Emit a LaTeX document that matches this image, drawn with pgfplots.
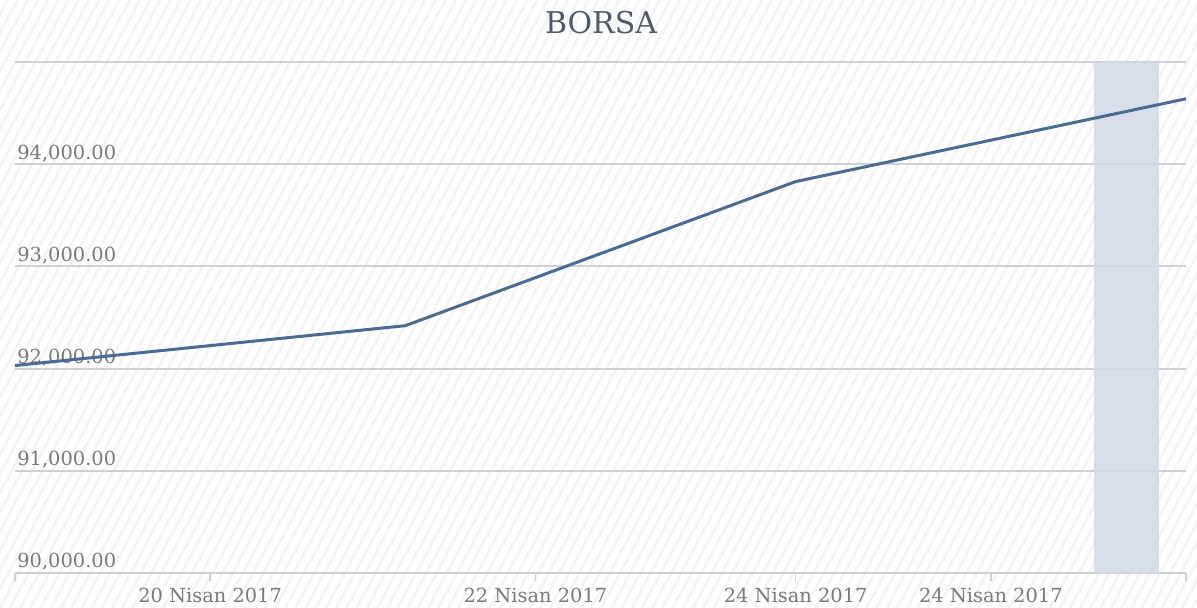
\documentclass[border=0pt]{standalone}
\usepackage{fontspec}
\setmainfont{DejaVu Serif}
\usepackage{pgfplots}
\pgfplotsset{compat=1.18}
\usetikzlibrary{patterns.meta}
\definecolor{gridc}{HTML}{CDD1D5}
\definecolor{labc}{HTML}{7A7A7A}
\definecolor{titc}{HTML}{4F5B69}
\definecolor{linec}{HTML}{4A6B92}
\definecolor{bandc}{HTML}{D3DAE7}
\definecolor{hatchc}{HTML}{F4F4F4}
\begin{document}
\begin{tikzpicture}
% canvas: 1197x608 px at 0.5pt/px, axis box lower-left at (0,0)
\fill[white] (-7.5pt,-17.5pt) rectangle (591pt,286.5pt);
\fill[pattern={Lines[angle=62,distance=4.5pt,line width=1.3pt]},pattern color=hatchc] (-7.5pt,-17.5pt) rectangle (591pt,286.5pt);
\node[text=titc,font=\fontsize{15}{17}\selectfont] at (293pt,275pt) {BORSA};
\begin{axis}[
  at={(0,0)}, anchor=south west,
  scale only axis,
  width=585.5pt, height=255.5pt,
  xmin=0, xmax=3, ymin=90000, ymax=95000,
  scaled y ticks=false,
  axis x line*=bottom,
  axis y line*=left,
  y axis line style={draw=none},
  x axis line style={gridc, line width=1pt},
  ytick={90000,91000,92000,93000,94000,95000},
  yticklabels={{90,000.00},{91,000.00},{92,000.00},{93,000.00},{94,000.00},{}},
  ytick style={draw=none},
  ymajorgrids,
  grid style={gridc, line width=1pt},
  xtick={0,0.5,1.3333,2,2.5,3},
  xticklabels={{},{20 Nisan 2017},{22 Nisan 2017},{24 Nisan 2017},{24 Nisan 2017},{}},
  tick align=outside,
  major tick length=4pt,
  xtick style={gridc, line width=0.8pt},
  yticklabel style={anchor=base west, inner sep=0pt, xshift=5pt, yshift=2.5pt, text=labc, font=\fontsize{9.7}{11}\selectfont},
  xticklabel style={anchor=north, inner sep=0pt, yshift=-3.5pt, text=labc, font=\fontsize{9.7}{11}\selectfont},
  clip=false,
]
\addplot[draw=none, fill=bandc, fill opacity=0.85] coordinates {(2.764,90000) (2.931,90000) (2.931,95000) (2.764,95000)} -- cycle;
\addplot[linec, line width=1.5pt, mark=none] coordinates {
  (0,92030) (1,92420) (2,93830) (3,94640)
};
\end{axis}
\end{tikzpicture}
\end{document}
